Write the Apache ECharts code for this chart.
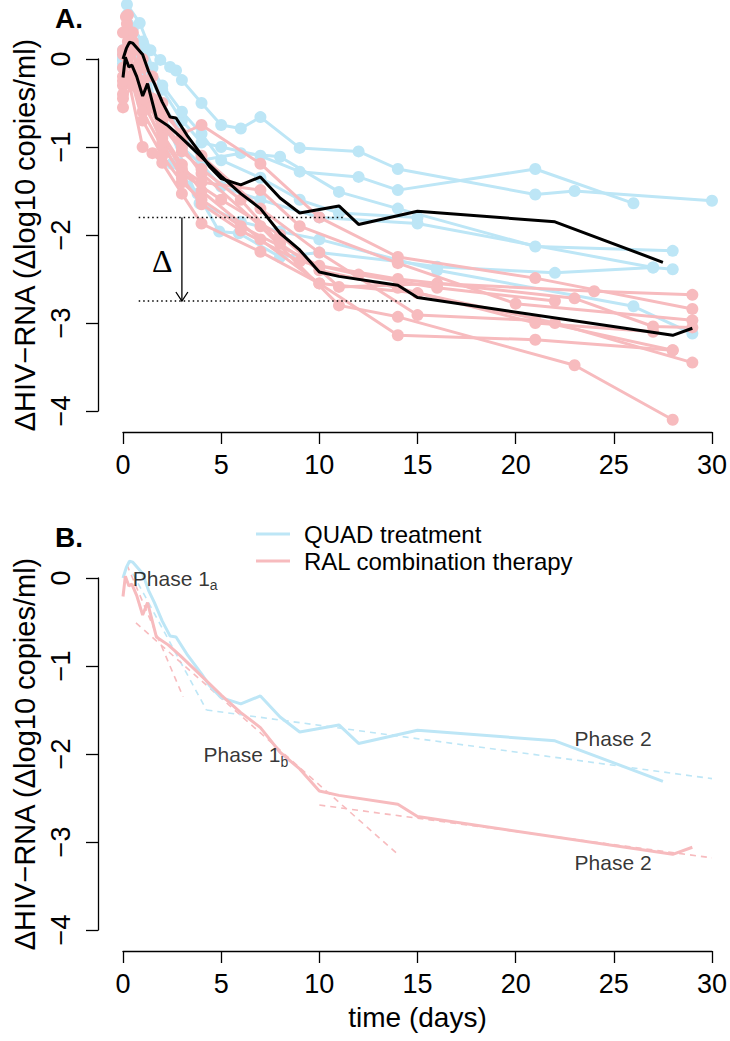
<!DOCTYPE html>
<html><head><meta charset="utf-8">
<script src="https://cdn.jsdelivr.net/npm/echarts@6/dist/echarts.min.js"></script>
<style>html,body{margin:0;padding:0;background:#fff}#c{width:730px;height:1041px}</style>
</head><body><div id="c"></div>
<script>
// ---------- data ----------
const xTicks = [0, 5, 10, 15, 20, 25, 30];
const yTicks = [0, -1, -2, -3, -4];

// QUAD treatment patients [day, delta log10]
const Q1 = [[0,0],[0.2,0.62],[0.85,0.41],[1.4,0.1],[1.9,-0.01],[2.4,-0.09],[2.7,-0.13],[3,-0.24],[4,-0.5],[5,-0.75],[6,-0.79],[7,-0.66],[9,-1.01],[12,-1.05],[14,-1.25],[21,-1.54],[23,-1.5],[30,-1.61]];
const Q2 = [[0,0.05],[0.2,0.5],[0.5,0.35],[1,0.2],[1.5,-0.1],[2,-0.35],[3,-0.7],[4,-0.95],[5,-1.0],[7,-1.1],[9,-1.28],[12,-1.34],[14,-1.49],[21,-1.25],[26,-1.64]];
const Q3 = [[0,0],[0.25,0.3],[0.5,0.2],[1,0.0],[2,-0.5],[3,-0.85],[4,-1.15],[6,-1.07],[8,-1.11],[11,-1.51],[14,-1.7],[21,-2.13],[28,-2.18]];
const Q4 = [[0,-0.1],[0.25,0.4],[1,0.1],[1.9,-0.77],[3,-1.0],[4,-1.2],[5,-1.45],[7,-1.6],[10,-1.8],[15,-1.87],[27,-2.37],[28,-2.39]];
const Q5 = [[0,0],[0.3,0.2],[1,-0.1],[2.5,-1.19],[3.8,-1.53],[4.9,-1.96],[5.9,-1.98],[8,-2.25],[10,-2.2],[14,-2.3],[16,-2.36],[22,-2.43],[27,-2.37]];
const Q6 = [[0,0.1],[0.5,0.1],[1,-0.2],[2,-0.6],[3.9,-1.64],[6,-1.85],[8,-1.96],[10,-2.05],[16,-2.4],[26,-2.81],[29,-3.12]];
const Q7 = [[0,-0.05],[0.3,0.35],[0.6,0.15],[1,0.05],[2,-0.3],[3,-0.6],[4,-0.85],[5,-1.15],[7,-1.35],[9,-1.6],[11,-1.75],[15,-1.8]];

// RAL combination therapy patients
const R1 = [[0,-0.3],[0.15,0.48],[0.5,0.1],[1,-0.35],[2,-0.85],[3,-1.2],[4,-1.5],[7,-2.05],[10,-2.55],[14,-3.14],[21,-3.19],[28,-3.31]];
const R2 = [[0,-0.1],[0.2,0.4],[0.5,0.2],[1,-0.1],[1.5,-0.45],[2,-0.7],[3,-1.0],[4,-1.3],[7,-1.9],[11,-2.8],[14,-2.93],[23,-3.48],[28,-4.1]];
const R3 = [[0,0.05],[0.25,0.5],[0.5,0.3],[1,0.0],[1.5,-0.2],[2,-0.5],[3,-0.9],[4,-1.1],[7,-1.7],[10,-2.2],[15,-2.91],[21,-2.97],[28,-3.31]];
const R4 = [[0,-0.55],[0.25,-0.2],[1,-1.0],[1.5,-1.07],[2,-1.18],[3,-1.53],[4,-1.87],[7,-2.19],[10,-2.55],[15,-2.66],[22,-3.0],[29,-3.45]];
const R5 = [[0,-0.2],[0.25,0.2],[0.5,0.1],[1,-0.3],[2,-0.6],[3,-0.85],[4,-0.75],[7,-1.19],[10,-1.8],[14,-2.25],[21,-2.49],[29,-2.84]];
const R6 = [[0,-0.4],[0.25,0.0],[1,-0.5],[2,-0.9],[3,-1.25],[4,-1.4],[7,-1.49],[9,-1.9],[14,-2.32],[20,-2.78],[29,-2.97]];
const R7 = [[0,0.1],[0.5,-0.2],[1,-0.6],[2,-1.0],[3,-1.3],[5,-1.6],[8,-2.0],[11,-2.59],[16,-2.55],[24,-2.64],[29,-2.68]];
const R8 = [[0,-0.45],[0.5,-0.3],[1,-0.7],[2,-1.1],[3,-1.4],[4,-1.6],[6,-1.9],[10,-2.35],[14,-2.5],[23,-2.72],[27,-3.04],[29,-3.05]];
const R9 = [[0,0.3],[0.3,0.2],[1,-0.25],[1.5,-0.55],[2,-0.75],[3,-1.05],[4,-1.25],[6,-1.6],[8,-2.1],[10,-2.4],[14,-2.6],[21,-3.0],[27,-3.1]];
const R10 = [[0,-0.25],[0.2,0.1],[0.6,-0.1],[1,-0.45],[2,-0.95],[3,-1.35],[4,-1.65],[6,-1.95],[9,-2.3],[12,-2.45],[16,-2.6],[22,-2.75]];

// group means
const quadMean = [[0,0.0],[0.17,0.12],[0.33,0.19],[0.5,0.18],[1,0.05],[1.3,-0.14],[1.6,-0.28],[2,-0.49],[2.4,-0.66],[2.7,-0.67],[3.3,-0.88],[4,-1.09],[4.4,-1.22],[5,-1.36],[6,-1.43],[7,-1.34],[8,-1.58],[9,-1.75],[11,-1.67],[12,-1.88],[15,-1.73],[22,-1.85],[27.5,-2.31]];
const ralMean = [[0,-0.21],[0.12,0.02],[0.3,-0.09],[0.45,-0.07],[0.7,-0.2],[1,-0.42],[1.25,-0.28],[1.7,-0.67],[2.3,-0.76],[2.9,-0.88],[3.7,-1.05],[5,-1.33],[6,-1.53],[7,-1.7],[8,-1.98],[9,-2.17],[10,-2.42],[11,-2.47],[14,-2.57],[15,-2.71],[28,-3.14],[29,-3.06]];

// fitted phases (panel B)
const quadPhase1 = [[0.5,0.05],[4.25,-1.5]];
const quadPhase2 = [[4.25,-1.5],[30,-2.28]];
const ralPhase1a = [[0.2,0.15],[3.06,-1.35]];
const ralPhase1b = [[0.66,-0.51],[13.95,-3.13]];
const ralPhase2 = [[10,-2.58],[30,-3.18]];

// annotation (panel A): delta between means
const deltaUpper = [[0.8,-1.8],[11.25,-1.8]];
const deltaLower = [[0.8,-2.75],[14.7,-2.75]];
const deltaArrow = [[3,-1.8,-2.75]];
const deltaText = [2.0,-2.3];

// phase labels (panel B) [day, value, main, subscript]
const phaseLabels = [[0.5,0.0,'Phase 1','a'],[4.1,-2.01,'Phase 1','b'],[23.0,-1.82,'Phase 2',''],[23.0,-3.23,'Phase 2','']];

// ---------- style ----------
const BLUE = '#BDE6F6', PINK = '#F7BBBE';
const FONT = '"Liberation Sans", Arial, Helvetica, sans-serif';
const quadPatients = [Q1,Q2,Q3,Q4,Q5,Q6,Q7];
const ralPatients = [R1,R2,R3,R4,R5,R6,R7,R8,R9,R10];
const minus = v => (v < 0 ? '\u2212' + Math.abs(v) : String(v));

function mkX(gi, showName) {
  return {
    type: 'value', gridIndex: gi, min: xTicks[0], max: xTicks[xTicks.length-1], interval: 5,
    offset: 21, position: 'bottom',
    axisLine: {show: true, onZero: false, lineStyle: {color: '#000', width: 1.3}},
    axisTick: {show: true, length: 12, inside: false, lineStyle: {color: '#000', width: 1.3}},
    axisLabel: {fontSize: 27, color: '#000', margin: 19, fontFamily: FONT},
    splitLine: {show: false},
    name: showName ? 'time (days)' : '', nameLocation: 'middle', nameGap: 52,
    nameTextStyle: {fontSize: 28, color: '#000', fontFamily: FONT}
  };
}
function mkY(gi) {
  return {
    type: 'value', gridIndex: gi, min: yTicks[yTicks.length-1], max: yTicks[0], interval: 1,
    offset: 25, position: 'left',
    axisLine: {show: true, onZero: false, lineStyle: {color: '#000', width: 1.3}},
    axisTick: {show: true, length: 12, inside: false, lineStyle: {color: '#000', width: 1.3}},
    axisLabel: {fontSize: 27, color: '#000', margin: 24, rotate: 90, formatter: minus, fontFamily: FONT},
    splitLine: {show: false},
    name: 'ΔHIV\u2212RNA (Δlog10 copies/ml)', nameLocation: 'middle', nameGap: 59,
    nameTextStyle: {fontSize: 29, color: '#000', fontFamily: FONT}
  };
}

const series = [];
quadPatients.forEach((p, i) => series.push({
  name: 'quad' + i, type: 'line', xAxisIndex: 0, yAxisIndex: 0, data: p, clip: false,
  symbol: 'circle', symbolSize: 12, showSymbol: true,
  lineStyle: {color: BLUE, width: 3}, itemStyle: {color: BLUE}, z: 2, silent: true
}));
ralPatients.forEach((p, i) => series.push({
  name: 'ral' + i, type: 'line', xAxisIndex: 0, yAxisIndex: 0, data: p, clip: false,
  symbol: 'circle', symbolSize: 12, showSymbol: true,
  lineStyle: {color: PINK, width: 3}, itemStyle: {color: PINK}, z: 3, silent: true
}));
[quadMean, ralMean].forEach((m, i) => series.push({
  name: 'meanA' + i, type: 'line', xAxisIndex: 0, yAxisIndex: 0, data: m, clip: false,
  symbol: 'none', lineStyle: {color: '#000', width: 3}, z: 5, silent: true
}));
[deltaUpper, deltaLower].forEach((d, i) => series.push({
  name: 'dl' + i, type: 'line', xAxisIndex: 0, yAxisIndex: 0, data: d, clip: false,
  symbol: 'none', lineStyle: {color: '#000', width: 1.5, type: [1.5, 3]}, z: 6, silent: true
}));
series.push({
  name: 'delta', type: 'custom', xAxisIndex: 0, yAxisIndex: 0, data: deltaArrow, z: 7, silent: true,
  renderItem: (params, api) => {
    const top = api.coord([api.value(0), api.value(1)]);
    const bot = api.coord([api.value(0), api.value(2)]);
    const t = api.coord(deltaText);
    return {type: 'group', children: [
      {type: 'line', shape: {x1: top[0], y1: top[1], x2: bot[0], y2: bot[1]}, style: {stroke: '#000', lineWidth: 1.3}},
      {type: 'polyline', shape: {points: [[bot[0]-6, bot[1]-9], [bot[0], bot[1]], [bot[0]+6, bot[1]-9]]}, style: {stroke: '#000', lineWidth: 1.3, fill: null}},
      {type: 'text', x: t[0], y: t[1], style: {text: 'Δ', font: '32px "Liberation Serif", "DejaVu Serif", serif', fill: '#000', align: 'center', verticalAlign: 'middle'}}
    ]};
  }
});
// panel B
series.push({name: 'QUAD treatment', type: 'line', xAxisIndex: 1, yAxisIndex: 1, data: quadMean, clip: false,
  symbol: 'none', lineStyle: {color: BLUE, width: 3}, itemStyle: {color: BLUE}, z: 4, silent: true});
series.push({name: 'RAL combination therapy', type: 'line', xAxisIndex: 1, yAxisIndex: 1, data: ralMean, clip: false,
  symbol: 'none', lineStyle: {color: PINK, width: 3}, itemStyle: {color: PINK}, z: 4, silent: true});
[[quadPhase1, BLUE], [quadPhase2, BLUE], [ralPhase1a, PINK], [ralPhase1b, PINK], [ralPhase2, PINK]].forEach((f, i) => series.push({
  name: 'fit' + i, type: 'line', xAxisIndex: 1, yAxisIndex: 1, data: f[0], clip: false,
  symbol: 'none', lineStyle: {color: f[1], width: 1.6, type: [6, 5]}, z: 3, silent: true
}));
series.push({
  name: 'phases', type: 'scatter', xAxisIndex: 1, yAxisIndex: 1, symbolSize: 0, silent: true, z: 8,
  data: phaseLabels.map(l => ({value: [l[0], l[1]], main: l[2], sub: l[3]})),
  label: {
    show: true, position: 'right', distance: 0,
    formatter: p => '{m|' + p.data.main + '}' + (p.data.sub ? '{s|' + p.data.sub + '}' : ''),
    rich: {
      m: {fontSize: 21, lineHeight: 28, color: '#000', fontFamily: FONT},
      s: {fontSize: 14, lineHeight: 14, verticalAlign: 'bottom', color: '#000', fontFamily: FONT}
    }
  }
});

const chart = echarts.init(document.getElementById('c'), null, {renderer: 'svg', width: 730, height: 1041});
chart.setOption({
  animation: false,
  backgroundColor: '#fff',
  textStyle: {fontFamily: FONT},
  title: [
    {text: 'A.', left: 55, top: 4, padding: 0, textStyle: {fontSize: 28, fontWeight: 'bold', color: '#000', fontFamily: FONT}},
    {text: 'B.', left: 55, top: 523, padding: 0, textStyle: {fontSize: 28, fontWeight: 'bold', color: '#000', fontFamily: FONT}}
  ],
  legend: {
    data: ['QUAD treatment', 'RAL combination therapy'], orient: 'vertical', left: 256, top: 521,
    itemWidth: 34, itemHeight: 3, icon: 'rect', itemGap: 1, padding: 0, selectedMode: false,
    textStyle: {fontSize: 24, lineHeight: 26, color: '#000', padding: [0, 0, 0, 9], fontFamily: FONT}
  },
  grid: [
    {left: 123, right: 15, top: 59, height: 352},
    {left: 123, right: 15, top: 578, height: 352}
  ],
  xAxis: [mkX(0, false), mkX(1, true)],
  yAxis: [mkY(0), mkY(1)],
  series: series
});
</script></body></html>
